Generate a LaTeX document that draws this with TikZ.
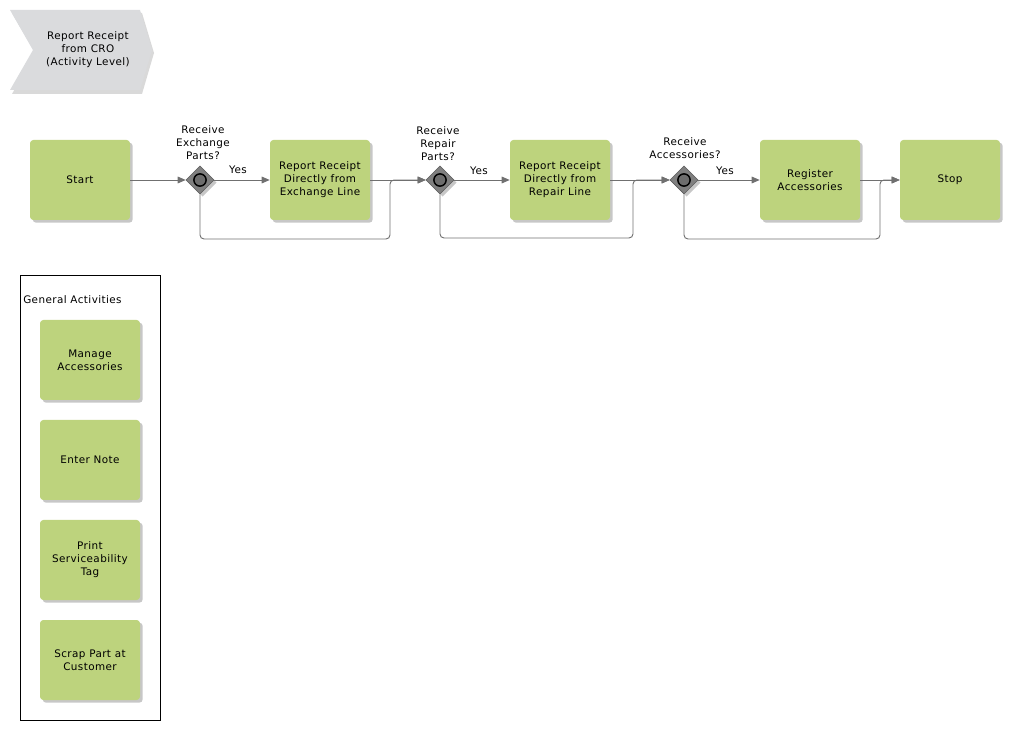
\documentclass[tikz,border=0pt]{standalone}
\usepackage{fontspec}
\setmainfont{DejaVu Sans}[LetterSpace=4]
\usetikzlibrary{shapes.geometric,shadows,arrows.meta,calc}
\definecolor{act}{RGB}{189,211,125}
\definecolor{lin}{RGB}{112,112,112}
\definecolor{gw}{RGB}{128,128,128}
\definecolor{chev}{RGB}{218,219,221}
\tikzset{
  actbox/.style={draw=none, fill=act, rounded corners=2.5pt, minimum width=75pt, minimum height=60pt,
     align=center, font=\fontsize{7.8}{9.75}\selectfont, inner sep=1pt,
     drop shadow={shadow xshift=2pt, shadow yshift=-2pt, fill=black, opacity=0.22}},
  gate/.style={diamond, draw=gw!70!black, fill=gw, minimum width=21pt, minimum height=21pt, inner sep=0pt,
     drop shadow={shadow xshift=2pt, shadow yshift=-2pt, fill=black, opacity=0.22}},
  lbl/.style={align=center, font=\fontsize{7.8}{9.75}\selectfont, inner sep=0pt},
  conn/.style={draw=lin, line width=0.7pt},
  flow/.style={conn, -{Triangle[length=6pt,width=5pt,fill=lin]}},
}
\begin{document}
\begin{tikzpicture}[x=0.75pt,y=-0.75pt]
\useasboundingbox (0,0) rectangle (1010,730);
% chevron
\fill[black, opacity=0.15] (12,13) -- (142,13) -- (154,53) -- (142,94) -- (12,94) -- (35,53) -- cycle;
\fill[chev] (10,10) -- (140,10) -- (152,50) -- (140,90) -- (10,90) -- (33,50) -- cycle;
\node[lbl] (title) at (88,50) {Report Receipt\\from CRO\\(Activity Level)};
% main flow
\node[actbox] (start) at (80,180) {Start};
\node[gate] (g1) at (200,180) {};
\node[actbox] (b2) at (320,180) {Report Receipt\\Directly from\\Exchange Line};
\node[gate] (g2) at (440,180) {};
\node[actbox] (b3) at (560,180) {Report Receipt\\Directly from\\Repair Line};
\node[gate] (g3) at (684,180) {};
\node[actbox] (b4) at (810,180) {Register\\Accessories};
\node[actbox] (stop) at (950,180) {Stop};
\foreach \g in {g1,g2,g3}{
  \draw[black, line width=1.1pt, fill=gw!85!black] (\g) circle (4.6pt);
}
\node[lbl, anchor=south] (l1) at (203,160) {Receive\\Exchange\\Parts?};
\node[lbl, anchor=south] (l2) at (438,161) {Receive\\Repair\\Parts?};
\node[lbl, anchor=south] (l3) at (685,159) {Receive\\Accessories?};
\node[lbl] (y1) at (238,170) {Yes};
\node[lbl] (y2) at (479,171) {Yes};
\node[lbl] (y3) at (725,171) {Yes};
\coordinate (j1) at (390,239);
\coordinate (j2) at (633,238);
\coordinate (j3) at (880,239);
\draw[flow] (start) -- (g1);
\draw[flow] (g1) -- (b2);
\draw[flow] (b2) -- (g2);
\draw[flow, rounded corners=3pt] (g1.south) |- (j1) |- (g2.west);
\draw[flow] (g2) -- (b3);
\draw[flow] (b3) -- (g3);
\draw[flow, rounded corners=3pt] (g2.south) |- (j2) |- (g3.west);
\draw[flow] (g3) -- (b4);
\draw[flow] (b4) -- (stop);
\draw[flow, rounded corners=3pt] (g3.south) |- (j3) |- (stop.west);
% general activities
\draw[black, line width=0.6pt] (20,275) rectangle (160,720);
\node[lbl, anchor=west] (ga) at (23,300) {General Activities};
\node[actbox] (a1) at (90,360) {Manage\\Accessories};
\node[actbox] (a2) at (90,460) {Enter Note};
\node[actbox] (a3) at (90,560) {Print\\Serviceability\\Tag};
\node[actbox] (a4) at (90,660) {Scrap Part at\\Customer};
\end{tikzpicture}
\end{document}
